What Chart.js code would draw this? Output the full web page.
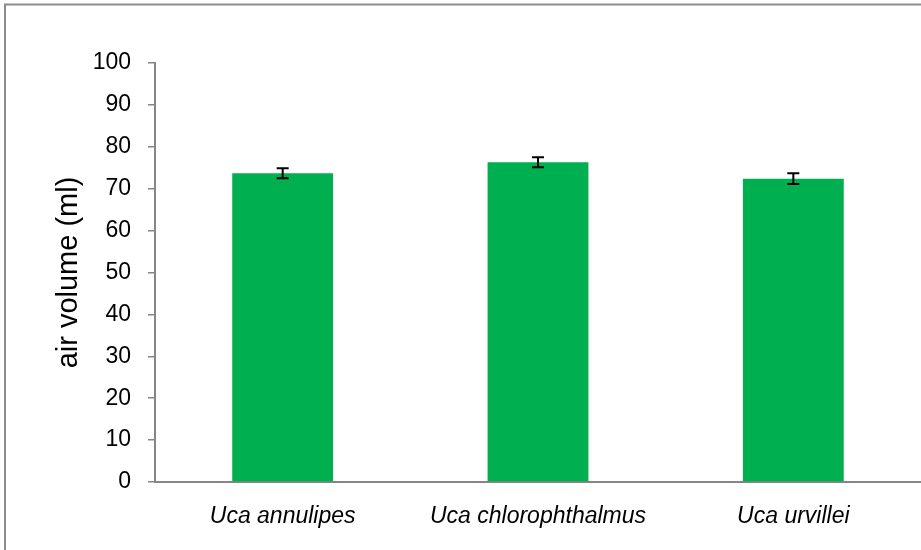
<!DOCTYPE html>
<html>
<head>
<meta charset="utf-8">
<script src="https://cdn.jsdelivr.net/npm/chart.js@4/dist/chart.umd.min.js"></script>
<style>
  html, body { margin: 0; padding: 0; background: #fff; }
  #wrap { position: relative; width: 921px; height: 550px; }
</style>
</head>
<body>
<div id="wrap"><canvas id="chart" width="921" height="550"></canvas></div>
<script>
// values
const species = ['Uca annulipes', 'Uca chlorophthalmus', 'Uca urvillei'];
const airVolume = [73.7, 76.3, 72.4];
const airVolumeErr = [1.2, 1.2, 1.3];
const yTicks = [0, 10, 20, 30, 40, 50, 60, 70, 80, 90, 100];

const axisGrey = '#868686';

// outer frame of the figure
const framePlugin = {
  id: 'frame',
  beforeDraw(chart) {
    const ctx = chart.ctx;
    ctx.save();
    ctx.strokeStyle = '#8c8c8c';
    ctx.lineWidth = 2;
    ctx.strokeRect(5, 4.5, 940, 570);
    ctx.restore();
  }
};

// error bars, drawn through the chart's own scales
const errorBarPlugin = {
  id: 'errorBars',
  afterDatasetsDraw(chart) {
    const ctx = chart.ctx;
    const meta = chart.getDatasetMeta(0);
    const y = chart.scales.y;
    ctx.save();
    ctx.strokeStyle = '#000';
    ctx.lineWidth = 2;
    meta.data.forEach((bar, i) => {
      const top = y.getPixelForValue(airVolume[i] + airVolumeErr[i]);
      const bottom = y.getPixelForValue(airVolume[i] - airVolumeErr[i]);
      const x = bar.x;
      ctx.beginPath();
      ctx.moveTo(x, top);
      ctx.lineTo(x, bottom);
      ctx.moveTo(x - 6, top);
      ctx.lineTo(x + 6, top);
      ctx.moveTo(x - 6, bottom);
      ctx.lineTo(x + 6, bottom);
      ctx.stroke();
    });
    ctx.restore();
  }
};

new Chart(document.getElementById('chart'), {
  type: 'bar',
  data: {
    labels: species,
    datasets: [{
      data: airVolume,
      backgroundColor: '#00b050',
      borderWidth: 0,
      categoryPercentage: 1,
      barPercentage: 0.395
    }]
  },
  options: {
    responsive: false,
    animation: false,
    devicePixelRatio: 1,
    layout: { padding: { left: 52, top: 63, right: 0, bottom: 0 } },
    plugins: {
      legend: { display: false },
      tooltip: { enabled: false }
    },
    scales: {
      x: {
        grid: { display: false },
        border: { color: axisGrey, width: 2 },
        ticks: {
          color: '#000',
          padding: 13,
          maxRotation: 0,
          font: { family: "'Liberation Sans', Arial", size: 23, style: 'italic' }
        },
        afterFit(s) { s.height = 68; }
      },
      y: {
        min: 0,
        max: 100,
        afterBuildTicks(s) { s.ticks = yTicks.map(v => ({ value: v })); },
        grid: { drawOnChartArea: false, color: axisGrey, lineWidth: 1.5, tickLength: 7 },
        border: { color: axisGrey, width: 2 },
        ticks: {
          color: '#000',
          padding: 17,
          font: { family: "'Liberation Sans', Arial", size: 23 }
        },
        title: {
          display: true,
          text: 'air volume (ml)',
          color: '#000',
          padding: 0,
          font: { family: "'Liberation Sans', Arial", size: 29 }
        },
        afterFit(s) { s.width = 103; }
      }
    }
  },
  plugins: [framePlugin, errorBarPlugin]
});
</script>
</body>
</html>
